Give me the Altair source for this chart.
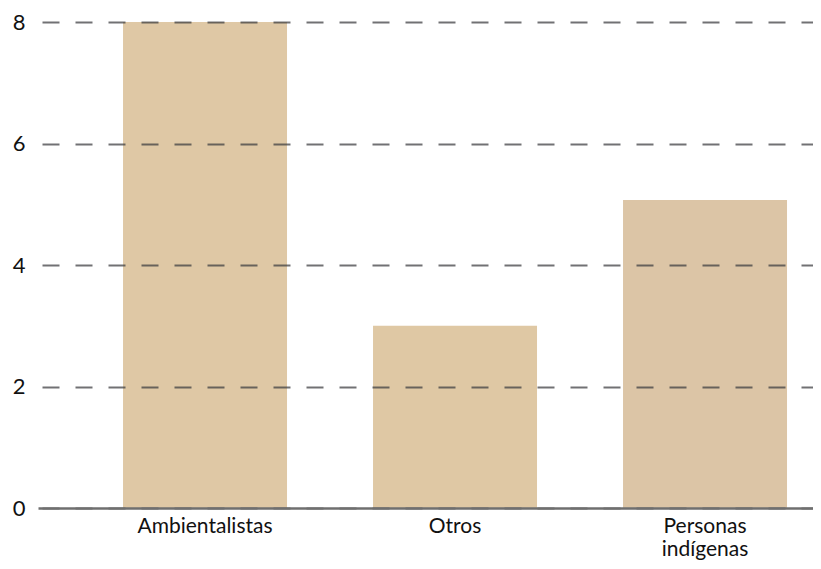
import altair as alt
import pandas as pd

categories = ["Ambientalistas", "Otros", "Personas indígenas"]
values = [8, 3, 5.07]
bar_colors = ["#dfc8a5", "#dfc8a4", "#dcc5a6"]

df = pd.DataFrame({"categoria": categories, "valor": values, "color": bar_colors})

FONT = "Lato"

bars = alt.Chart(df).mark_bar(cornerRadius=0).encode(
    x=alt.X(
        "categoria:N",
        sort=categories,
        title=None,
        scale=alt.Scale(paddingInner=0.344, paddingOuter=0.222, align=0.766),
        axis=alt.Axis(
            labelAngle=0,
            ticks=False,
            tickSize=0,
            domain=True,
            domainColor="#6f6f6f",
            domainWidth=2.5,
            labelFont=FONT,
            labelFontSize=21,
            labelColor="#111111",
            labelPadding=24,
            labelBaseline="alphabetic",
            labelLineHeight=23,
            labelExpr="datum.label == 'Personas indígenas' ? ['Personas', 'indígenas'] : datum.label",
            zindex=2,
        ),
    ),
    y=alt.Y(
        "valor:Q",
        title=None,
        scale=alt.Scale(domain=[0, 8], nice=False),
        axis=alt.Axis(
            values=[0, 2, 4, 6, 8],
            domain=False,
            ticks=False,
            tickSize=0,
            grid=True,
            gridColor="#3a3a3f",
            gridOpacity=0.72,
            gridWidth=2,
            gridDash=[17, 16],
            labelFont=FONT,
            labelFontSize=22,
            labelColor="#111111",
            labelPadding=13,
            zindex=1,
        ),
    ),
    color=alt.Color("color:N", scale=None, legend=None),
)

chart = bars.properties(
    width=775,
    height=486,
    padding={"left": 30, "top": 14, "right": 0, "bottom": 53},
    autosize=alt.AutoSizeParams(type="none"),
).configure_view(stroke=None).configure_axisY(gridDashOffset=-4)

chart.save("out.html", embed_options={"renderer": "svg", "actions": False})
